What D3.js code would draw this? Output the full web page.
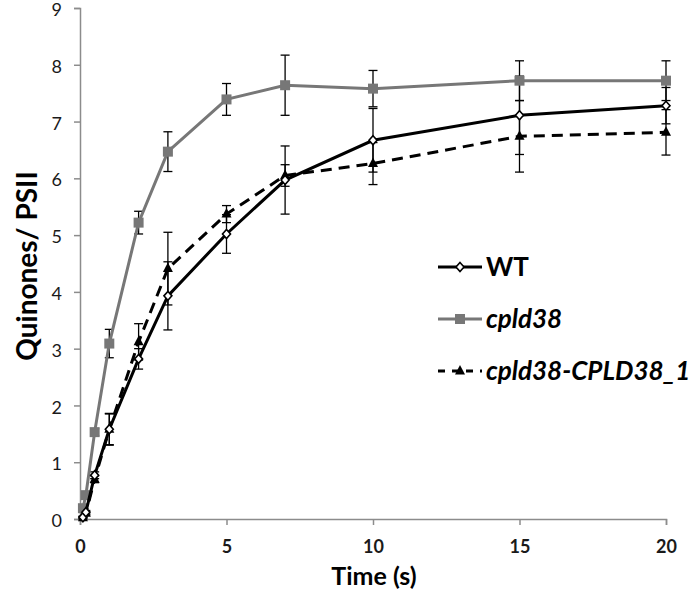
<!DOCTYPE html>
<html><head><meta charset="utf-8">
<script src="https://cdn.jsdelivr.net/npm/d3@7"></script>
<style>body{margin:0;background:#fff}svg{display:block}</style>
</head><body>
<svg id="c" width="693" height="591"></svg>
<script>
const times = [0.1, 0.2, 0.5, 1, 2, 3, 5, 7, 10, 15, 20];
const seriesNames = ["WT", "cpld38", "cpld38-CPLD38_1"];
const wtValues    = [0.03, 0.12, 0.77, 1.58, 2.82, 3.93, 5.02, 5.97, 6.67, 7.11, 7.28];
const wtErrors    = [0.02, 0.03, 0.06, 0.27, 0.18, 0.60, 0.34, 0.60, 0.56, 0.69, 0.32];
const cpValues    = [0.19, 0.42, 1.53, 3.09, 5.22, 6.47, 7.39, 7.64, 7.58, 7.72, 7.72];
const cpErrors    = [0.03, 0.05, 0.06, 0.25, 0.20, 0.35, 0.28, 0.53, 0.32, 0.35, 0.35];
const compValues  = [0.02, 0.10, 0.70, 1.58, 3.12, 4.41, 5.37, 6.05, 6.26, 6.74, 6.81];
const compErrors  = [0.02, 0.03, 0.06, 0.28, 0.32, 0.64, 0.15, 0.19, 0.37, 0.63, 0.40];
const xTicks = [0, 5, 10, 15, 20];
const yTicks = [0, 1, 2, 3, 4, 5, 6, 7, 8, 9];

const svg = d3.select("#c");
const x = d3.scaleLinear().domain([0, 20]).range([80, 666]);
const y = d3.scaleLinear().domain([0, 9]).range([519, 8]);
const axisColor = "#8c8c8c";
const font = "Lato, 'Open Sans', sans-serif";

// axes
const yAx = svg.append("g").attr("transform", `translate(${x(0)},0)`)
  .call(d3.axisLeft(y).tickValues(yTicks).tickSize(6).tickPadding(12).tickFormat(d3.format("d")));
const xAx = svg.append("g").attr("transform", `translate(0,${y(0)})`)
  .call(d3.axisBottom(x).tickValues(xTicks).tickSize(6).tickPadding(15).tickFormat(d3.format("d")));
[yAx, xAx].forEach(g => {
  g.select(".domain").attr("stroke", axisColor).attr("stroke-width", 1.5);
  g.selectAll(".tick line").attr("stroke", axisColor).attr("stroke-width", 1.5);
  g.selectAll("text").attr("font-family", font).attr("fill", "#1a1a1a");
});
yAx.selectAll("text").attr("font-size", 18).attr("dy", "0.42em");
xAx.selectAll("text").attr("font-size", 18).attr("font-weight", "bold");

svg.append("text").attr("x", 374).attr("y", 585).attr("text-anchor", "middle")
  .attr("font-family", font).attr("font-weight", "bold").attr("font-size", 25).text("Time (s)");
svg.append("text").attr("transform", "translate(37,266) rotate(-90)").attr("text-anchor", "middle")
  .attr("font-family", font).attr("font-weight", "bold").attr("font-size", 28).text("Quinones/ PSII");

const series = [
  {name: seriesNames[0], vals: wtValues, errs: wtErrors, color: "#000", dash: null, marker: "diamond"},
  {name: seriesNames[1], vals: cpValues, errs: cpErrors, color: "#777", dash: null, marker: "square"},
  {name: seriesNames[2], vals: compValues, errs: compErrors, color: "#000", dash: "11,7", marker: "triangle"}
];

function drawMarker(g, type, cx, cy, color) {
  if (type === "square") {
    g.append("rect").attr("x", cx - 5).attr("y", cy - 5).attr("width", 10).attr("height", 10).attr("fill", color);
  } else if (type === "diamond") {
    g.append("path").attr("d", `M${cx},${cy-4.5}L${cx+4},${cy}L${cx},${cy+4.5}L${cx-4},${cy}Z`)
      .attr("fill", "#fff").attr("stroke", "#000").attr("stroke-width", 1.6);
  } else {
    g.append("path").attr("d", `M${cx},${cy-6}L${cx+5},${cy+3.5}L${cx-5},${cy+3.5}Z`).attr("fill", color);
  }
}

const line = d3.line().x(d => x(d[0])).y(d => y(d[1]));

// error bars
series.forEach(s => {
  const g = svg.append("g");
  times.forEach((t, i) => {
    const cx = x(t), top = y(s.vals[i] + s.errs[i]), bot = y(s.vals[i] - s.errs[i]);
    g.append("line").attr("x1", cx).attr("x2", cx).attr("y1", top).attr("y2", bot).attr("stroke", "#000").attr("stroke-width", 1.3);
    [top, bot].forEach(yy => g.append("line").attr("x1", cx - 4.5).attr("x2", cx + 4.5).attr("y1", yy).attr("y2", yy).attr("stroke", "#000").attr("stroke-width", 1.3));
  });
});

// lines and markers (draw order: cpld38, complement, WT)
[series[1], series[2], series[0]].forEach(s => {
  const pts = times.map((t, i) => [t, s.vals[i]]);
  svg.append("path").attr("d", line(pts)).attr("fill", "none").attr("stroke", s.color)
    .attr("stroke-width", 3).attr("stroke-dasharray", s.dash);
  const g = svg.append("g");
  pts.forEach(p => drawMarker(g, s.marker, x(p[0]), y(p[1]), s.color));
});

// legend
const legY = [267, 319, 371];
series.forEach((s, i) => {
  const g = svg.append("g");
  g.append("line").attr("x1", 438).attr("x2", 482).attr("y1", legY[i]).attr("y2", legY[i])
    .attr("stroke", s.color).attr("stroke-width", 3).attr("stroke-dasharray", s.dash ? "7,7" : null);
  drawMarker(g, s.marker, 460, legY[i], s.color);
  g.append("text").attr("x", 486).attr("y", legY[i] + 9).attr("font-family", font)
    .attr("font-weight", "bold").attr("font-style", i === 0 ? "normal" : "italic")
    .attr("font-size", 26).attr("fill", "#000").text(s.name);
});
</script>
</body></html>
